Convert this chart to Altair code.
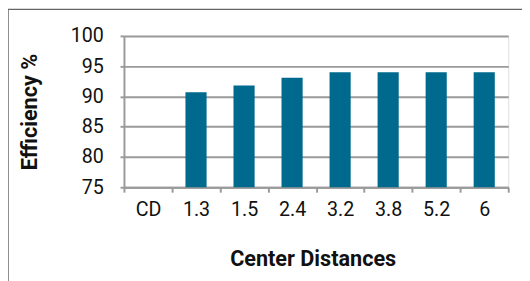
import altair as alt
import pandas as pd

categories = ["CD", "1.3", "1.5", "2.4", "3.2", "3.8", "5.2", "6"]
efficiency = [None, 90.7, 91.8, 93.1, 94.0, 94.0, 94.0, 94.0]
y_ticks = [75, 80, 85, 90, 95, 100]

df = pd.DataFrame({"cd": categories, "eff": efficiency})

FONT = "Roboto, DejaVu Sans Condensed, sans-serif"
GRID = "#9a9a9a"

bars = alt.Chart(df).mark_bar(
    color="#006A8E", width=alt.RelativeBandSize(0.44)
).encode(
    x=alt.X("cd:N", sort=categories,
            scale=alt.Scale(paddingInner=0, paddingOuter=0),
            axis=alt.Axis(title="Center Distances", labelAngle=0, tickBand="extent",
                          tickSize=5, tickColor=GRID, tickWidth=2,
                          domainColor=GRID, domainWidth=2,
                          labelFont=FONT, labelFontSize=20, labelColor="#111",
                          labelPadding=8,
                          titleFont=FONT, titleFontSize=22, titleFontWeight="bold",
                          titleColor="#111", titleX=192, titleY=73,
                          titleBaseline="middle", titleAnchor="start", titleAlign="center")),
    y=alt.Y("eff:Q",
            scale=alt.Scale(domain=[75, 100], zero=False, nice=False),
            axis=alt.Axis(title="Efficiency %", values=y_ticks,
                          grid=True, gridColor=GRID, gridWidth=2,
                          tickSize=4, tickColor=GRID, tickWidth=2,
                          domainColor=GRID, domainWidth=2,
                          labelFont=FONT, labelFontSize=20, labelColor="#111",
                          labelPadding=17,
                          titleFont=FONT, titleFontSize=22, titleFontWeight="bold",
                          titleColor="#111", titleX=-96, titleY=77,
                          titleBaseline="middle", titleAngle=-90, titleAlign="center")),
    y2=alt.datum(75),
)

frame = alt.Chart(pd.DataFrame({"a": [0]})).mark_rect(
    fill=None, stroke="#666", strokeWidth=1.5
).encode(
    x=alt.value(-118), x2=alt.value(500), y=alt.value(-27), y2=alt.value(300)
)

chart = alt.layer(frame, bars).properties(
    width=391, height=154,
    autosize=alt.AutoSizeParams(type="none"),
    padding={"left": 118, "top": 26, "right": 14, "bottom": 93},
).configure_view(stroke=None).configure(background="white")

chart.save("out.html", embed_options={"renderer": "svg", "actions": False})
